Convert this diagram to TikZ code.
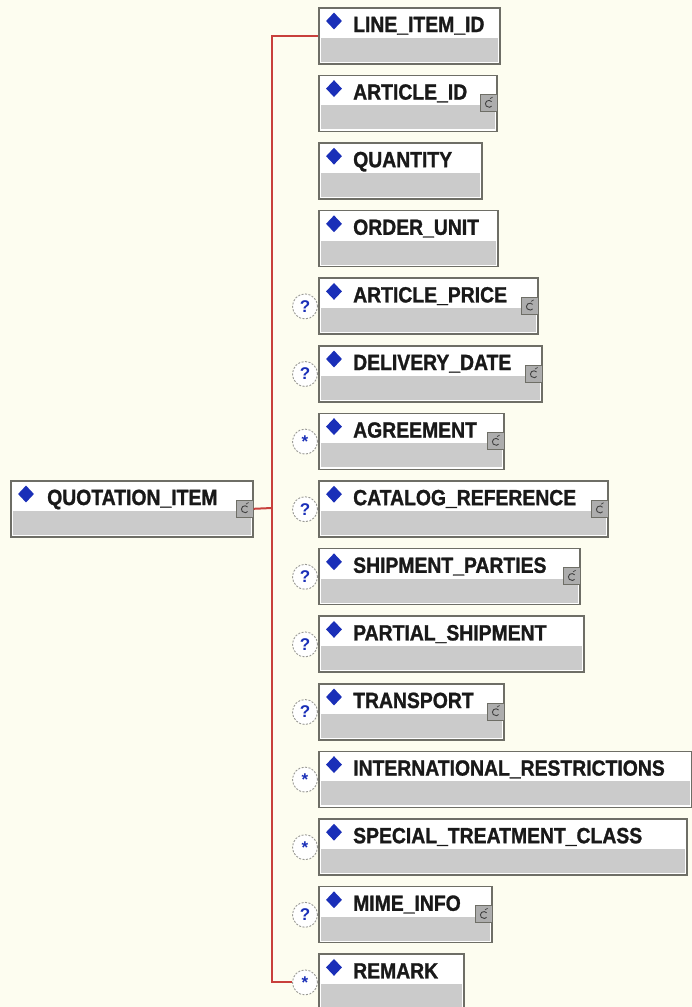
\documentclass[tikz,border=0pt]{standalone}
\usepackage{fontspec}
\setmainfont{Liberation Sans}
\newfontfamily\boxfont{Liberation Sans}[FakeStretch=0.88,FakeBold=1.2]
\usepackage{tikz}
\usetikzlibrary{positioning,calc,shapes.geometric}
\definecolor{paper}{HTML}{FDFDF0}
\definecolor{frame}{HTML}{6E6E66}
\definecolor{bandgray}{HTML}{CBCBCB}
\definecolor{wirered}{HTML}{C8403C}
\definecolor{mark}{HTML}{1A2FB8}
\tikzset{
  elem/.style={draw=frame, line width=1.6pt, fill=white, minimum height=56pt, inner sep=0pt, anchor=north west,
    path picture={\fill[bandgray] ([shift={(2pt,2pt)}]path picture bounding box.south west) rectangle ([shift={(-2pt,-2pt)}]path picture bounding box.east);}},
  gem/.style={diamond, fill=mark, draw=none, minimum width=16pt, minimum height=17pt, aspect=0.95, inner sep=0pt},
  lbl/.style={anchor=base west, inner sep=0pt, font=\boxfont\bfseries\fontsize{22}{24}\selectfont, text=black!90},
  ctype/.style={draw=frame, line width=1pt, fill=bandgray!85!black, minimum size=17pt, inner sep=0pt,
    path picture={\draw[black!75, line width=0.9pt] ([shift={(2.5pt,1.5pt)}]path picture bounding box.center) arc[start angle=40, end angle=320, radius=3.5pt];
      \draw[black!75, line width=0.7pt] ([shift={(1pt,4.5pt)}]path picture bounding box.center) -- ++(2.5pt,1.5pt);}},
  opt/.style={circle, minimum size=25pt, inner sep=0pt, draw=frame!70, line width=0.9pt, dash pattern=on 2pt off 1.5pt, fill=white, text=mark, font=\bfseries\fontsize{17}{17}\selectfont},
  wire/.style={draw=wirered, line width=2pt},
}
\begin{document}
\begin{tikzpicture}[x=1pt, y=-1pt]
  \fill[paper] (0,0) rectangle (692,1007);
  \useasboundingbox (0,0) rectangle (692,1007);
  \node[elem, minimum width=242pt] (root) at (10,480) {};
  \node[gem] (d0) at ($(root.north west)+(16,14)$) {};
  \node[lbl] (t0) at ($(root.north west)+(37,25)$) {QUOTATION\_ITEM};
  \node[ctype] (c0) at ($(root.north east)+(-8.5,28.5)$) {};
  \foreach \i/\lab/\w/\q/\c in {1/LINE\_ITEM\_ID/181/0/0, 2/ARTICLE\_ID/178/0/1, 3/QUANTITY/163/0/0,
      4/ORDER\_UNIT/179/0/0, 5/ARTICLE\_PRICE/219/1/1, 6/DELIVERY\_DATE/223/1/1, 7/AGREEMENT/185/2/1,
      8/CATALOG\_REFERENCE/289/1/1, 9/SHIPMENT\_PARTIES/261/1/1, 10/PARTIAL\_SHIPMENT/265/1/0,
      11/TRANSPORT/185/1/1, 12/INTERNATIONAL\_RESTRICTIONS/373/2/0, 13/SPECIAL\_TREATMENT\_CLASS/368/2/0,
      14/MIME\_INFO/173/1/1, 15/REMARK/145/2/0}{
    \pgfmathsetmacro{\ytop}{7+67.6*(\i-1)}
    \node[elem, minimum width=\w pt] (b\i) at (318,\ytop) {};
    \node[gem] (d\i) at ($(b\i.north west)+(16,14)$) {};
    \node[lbl] (t\i) at ($(b\i.north west)+(35,25)$) {\lab};
    \ifnum\c=1 \node[ctype] (c\i) at ($(b\i.north east)+(-8.5,28.5)$) {}; \fi
    \ifnum\q=1 \node[opt] (o\i) at ($(b\i.north west)+(-13,29)$) {?}; \fi
    \ifnum\q=2 \node[opt] (o\i) at ($(b\i.north west)+(-13,29)$) {\raisebox{-.4ex}{*}}; \fi
  }
  \coordinate (fork) at (272,508);
  \draw[wire] (root.east) -- (fork);
  \draw[wire] (b1.west) -| (fork) |- (o15.west);
\end{tikzpicture}
\end{document}
